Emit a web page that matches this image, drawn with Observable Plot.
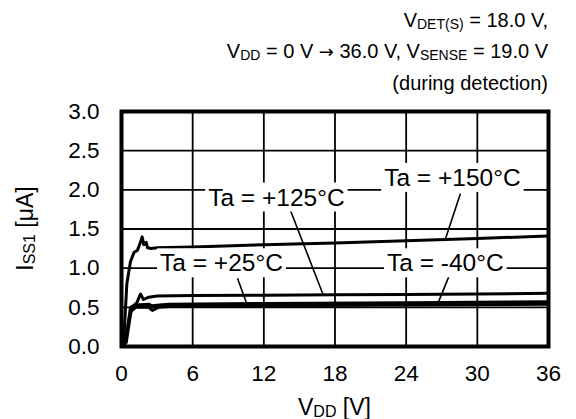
<!DOCTYPE html>
<html><head><meta charset="utf-8">
<script src="https://cdn.jsdelivr.net/npm/d3@7"></script>
<script src="https://cdn.jsdelivr.net/npm/@observablehq/plot@0.6"></script>
<style>
body{margin:0;background:#fff}
#chart svg{font-family: Arial, "Liberation Sans", sans-serif; display:block}
</style>
</head><body><div id="chart"></div>
<script>
// ---- data ----
const xTicks = [0, 6, 12, 18, 24, 30, 36];
const yTicks = [0, 0.5, 1.0, 1.5, 2.0, 2.5, 3.0];

const v150 = [0, 0.2, 0.45, 0.75, 1.05, 1.35, 1.6, 1.74, 1.88, 2.08, 2.2, 2.5, 3, 6, 12, 18, 24, 30, 36];
const i150 = [0, 0.1, 0.8, 1.08, 1.2, 1.23, 1.33, 1.4, 1.3, 1.33, 1.26, 1.25, 1.26, 1.27, 1.30, 1.32, 1.35, 1.38, 1.41];

const v125 = [0, 0.3, 0.7, 1.0, 1.3, 1.6, 1.85, 2.3, 3, 6, 12, 18, 24, 30, 36];
const i125 = [0, 0.05, 0.4, 0.52, 0.56, 0.67, 0.6, 0.63, 0.645, 0.65, 0.655, 0.66, 0.665, 0.67, 0.68];

const v25 = [0, 0.4, 0.8, 1.2, 2.3, 2.6, 3.1, 4, 12, 24, 36];
const i25 = [0, 0.05, 0.45, 0.5, 0.5, 0.46, 0.5, 0.51, 0.52, 0.53, 0.54];

const vm40 = [0, 0.35, 0.75, 1.2, 2.3, 2.6, 3.2, 4, 12, 24, 36];
const im40 = [0, 0.05, 0.5, 0.53, 0.54, 0.52, 0.53, 0.54, 0.55, 0.56, 0.57];

const labelText = ["Ta = +150°C", "Ta = +125°C", "Ta = +25°C", "Ta = -40°C"];
const labelV = [27.9, 13.06, 8.43, 27.3];
const labelI = [2.15, 1.90, 1.06, 1.06];
const leadV1 = [28.57, 14.24, 9.78, 27.7];
const leadI1 = [1.95, 1.74, 0.87, 0.93];
const leadV2 = [27.3, 17.0, 10.6, 26.7];
const leadI2 = [1.37, 0.66, 0.53, 0.56];

// ---- build tables ----
const series = [
  ["+150", v150, i150], ["+125", v125, i125], ["+25", v25, i25], ["-40", vm40, im40]
].flatMap(([k, vs, is]) => vs.map((v, j) => ({ta: k, v, i: is[j]})));
const labels = labelText.map((t, j) => ({t, v: labelV[j], i: labelI[j]}));
const leaders = labelText.map((t, j) => ({x1: leadV1[j], y1: leadI1[j], x2: leadV2[j], y2: leadI2[j]}));

const chart = Plot.plot({
  width: 576, height: 419,
  marginLeft: 121, marginRight: 28, marginTop: 111, marginBottom: 73,
  style: {fontSize: "22.5px", fontFamily: "Arial, 'Liberation Sans', sans-serif", color: "black", background: "white"},
  x: {domain: [0, 36], ticks: xTicks, tickSize: 0, tickPadding: 19, label: null},
  y: {domain: [0, 3], ticks: yTicks, tickSize: 0, tickPadding: 22, tickFormat: d3.format(".1f"), label: null},
  marks: [
    Plot.ruleX(xTicks, {stroke: "black", strokeWidth: 1.8}),
    Plot.ruleY(yTicks, {stroke: "black", strokeWidth: 1.8}),
    Plot.line(series, {x: "v", y: "i", z: "ta", stroke: "black", strokeWidth: 3, curve: "linear"}),
    Plot.link(leaders, {x1: "x1", y1: "y1", x2: "x2", y2: "y2", stroke: "black", strokeWidth: 1.6}),
    Plot.text(labels, {x: "v", y: "i", text: "t", fontSize: 24.5, fill: "black"}),
    Plot.frame({stroke: "black", strokeWidth: 4})
  ]
});
document.getElementById("chart").appendChild(chart);

// white boxes behind labels
const svg = d3.select(chart);
svg.selectAll("text").filter(function() { return labelText.includes(this.textContent); }).each(function() {
  const b = this.getBBox();
  const node = this;
  const r = d3.select(node.parentNode).insert("rect", () => node)
    .attr("x", b.x + (+node.getAttribute("x") ? 0 : 0) - 3).attr("y", b.y - 1)
    .attr("width", b.width + 6).attr("height", b.height + 2)
    .attr("fill", "white").attr("stroke", "none");
  const tr = node.getAttribute("transform");
  if (tr) r.attr("transform", tr);
});

// text with subscripts
function richText(parts, x, y, anchor, size, subSize, rotate) {
  const t = svg.append("text").attr("x", x).attr("y", y)
    .attr("text-anchor", anchor).attr("font-size", size).attr("fill", "black");
  if (rotate) t.attr("transform", `rotate(-90 ${x} ${y})`);
  let shifted = false;
  for (const [s, kind] of parts) {
    const ts = t.append("tspan").text(s);
    if (kind === "sub") { ts.attr("font-size", subSize).attr("dy", shifted ? 0 : 2); shifted = true; }
    else {
      if (shifted) ts.attr("dy", -2);
      shifted = false;
      if (kind === "sym") ts.attr("font-family", "'DejaVu Sans', sans-serif").attr("font-size", size * 0.9);
    }
  }
  return t;
}
richText([["V"], ["DET(S)", "sub"], [" = 18.0 V,"]], 548, 27, "end", 20, 14);
richText([["V"], ["DD", "sub"], [" = 0 V "], ["\u2192", "sym"], [" 36.0 V, V"], ["SENSE", "sub"], [" = 19.0 V"]], 548, 58, "end", 20, 14);
richText([["(during detection)"]], 548, 90, "end", 20, 14);
richText([["V"], ["DD", "sub"], [" [V]"]], 334.5, 415, "middle", 23, 16);
richText([["I"], ["SS1", "sub"], [" [\u03bcA]"]], 33, 228.5, "middle", 23, 16, true);
</script>
</body></html>
